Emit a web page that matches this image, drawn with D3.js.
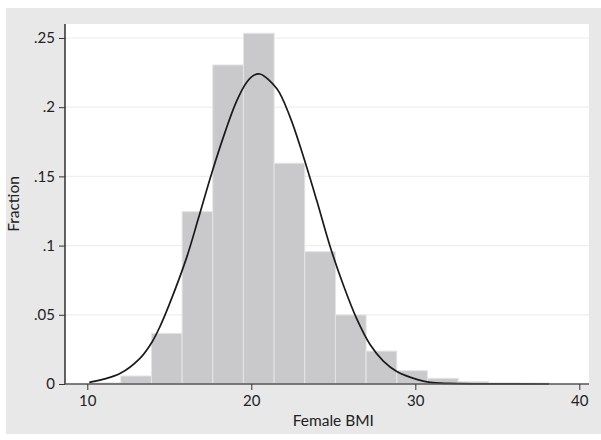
<!DOCTYPE html>
<html>
<head>
<meta charset="utf-8">
<script src="https://cdn.jsdelivr.net/npm/d3@7"></script>
<style>
  html, body { margin: 0; padding: 0; background: #ffffff; }
  svg { display: block; }
  text { font-family: "Lato", "Open Sans", sans-serif; fill: #222; }
</style>
</head>
<body>
<svg id="chart" width="601" height="440"></svg>
<script>
// ---- data ----
const binEdges = [10.17, 12.04, 13.91, 15.78, 17.65, 19.52, 21.39, 23.26, 25.13, 27.00, 28.87, 30.74, 32.61, 34.48, 36.35, 38.22];
const fractions = [0.0008, 0.0058, 0.0366, 0.1245, 0.2305, 0.2534, 0.1595, 0.0956, 0.0499, 0.0238, 0.0096, 0.0041, 0.0017, 0.0009, 0.0007];
const curveX = [10.12, 11.00, 11.99, 13.21, 13.93, 14.43, 15.00, 16.06, 16.77, 17.59, 18.40, 19.11, 19.72, 20.18, 20.53, 21.55, 22.36, 23.17, 23.99, 24.80, 25.61, 26.43, 27.24, 28.05, 28.87, 30.09, 30.90, 32.00, 34.00, 38.15];
const curveY = [0.0012, 0.0035, 0.0075, 0.0185, 0.0300, 0.0415, 0.0575, 0.0915, 0.1195, 0.1525, 0.1820, 0.2045, 0.2180, 0.2232, 0.2240, 0.2135, 0.1930, 0.1645, 0.1325, 0.0995, 0.0715, 0.0470, 0.0285, 0.0165, 0.0090, 0.0033, 0.0012, 0.0004, 0.0001, 0.0000];
const xTicks = [10, 20, 30, 40];
const yTicks = [0, 0.05, 0.1, 0.15, 0.2, 0.25];
const yTickLabels = ["0", ".05", ".1", ".15", ".2", ".25"];
const xTitle = "Female BMI";
const yTitle = "Fraction";

// ---- layout ----
const svg = d3.select("#chart");
const plot = { left: 65, right: 589, top: 24, bottom: 384 };

svg.append("rect").attr("x", 6).attr("y", 8).attr("width", 595).attr("height", 426).attr("fill", "#e8e8e9");
svg.append("rect").attr("x", plot.left).attr("y", plot.top)
  .attr("width", plot.right - plot.left).attr("height", plot.bottom - plot.top).attr("fill", "#ffffff");

const x = d3.scaleLinear().domain([8.64, 40.59]).range([plot.left, plot.right]);
const y = d3.scaleLinear().domain([0, 0.2601]).range([plot.bottom, plot.top]);

// grid
svg.append("g").selectAll("line").data(yTicks.filter(d => d > 0)).join("line")
  .attr("x1", plot.left).attr("x2", plot.right)
  .attr("y1", d => y(d)).attr("y2", d => y(d))
  .attr("stroke", "#eeeeee").attr("stroke-width", 1.2);

// bars
const bins = fractions.map((f, i) => ({ x0: binEdges[i], x1: binEdges[i + 1], f }));
svg.append("g").selectAll("rect").data(bins).join("rect")
  .attr("x", d => x(d.x0)).attr("width", d => x(d.x1) - x(d.x0))
  .attr("y", d => y(d.f)).attr("height", d => y(0) - y(d.f))
  .attr("fill", "#c9c9cb").attr("stroke", "#e4e4e5").attr("stroke-width", 1);

// normal curve
const pts = curveX.map((v, i) => [v, curveY[i]]);
svg.append("path").datum(pts)
  .attr("d", d3.line().x(d => x(d[0])).y(d => y(d[1])).curve(d3.curveCatmullRom.alpha(0.5)))
  .attr("fill", "none").attr("stroke", "#1a1a1a").attr("stroke-width", 1.7);

// axes
const yAxis = svg.append("g").attr("transform", `translate(${plot.left},0)`)
  .call(d3.axisLeft(y).tickValues(yTicks).tickFormat((d, i) => yTickLabels[i]).tickSize(6).tickPadding(4));
yAxis.select(".domain").attr("d", `M0,${plot.top}V${plot.bottom}`).attr("stroke", "#111").attr("stroke-width", 1.3);
yAxis.selectAll(".tick line").attr("stroke", "#333");
yAxis.selectAll("text").style("font-size", "15px").attr("fill", "#222");

const xAxis = svg.append("g").attr("transform", `translate(0,${plot.bottom})`)
  .call(d3.axisBottom(x).tickValues(xTicks).tickFormat(d3.format("d")).tickSize(6).tickPadding(5));
xAxis.select(".domain").attr("d", `M${plot.left},0H${plot.right}`).attr("stroke", "#555").attr("stroke-width", 1.3);
xAxis.selectAll(".tick line").attr("stroke", "#333");
xAxis.selectAll("text").style("font-size", "15px").attr("fill", "#222");

// titles
svg.append("text").attr("x", (x(10) + x(40)) / 2).attr("y", 426)
  .attr("text-anchor", "middle").style("font-size", "15.5px").text(xTitle);
svg.append("text").attr("transform", `translate(19,${(plot.top + plot.bottom) / 2}) rotate(-90)`)
  .attr("text-anchor", "middle").style("font-size", "15.5px").text(yTitle);
</script>
</body>
</html>
